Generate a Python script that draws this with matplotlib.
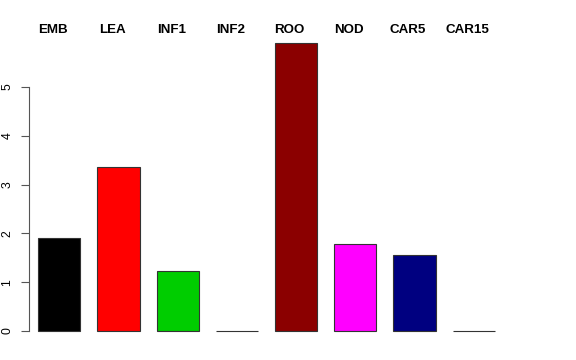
import numpy as np
import matplotlib
matplotlib.use('Agg')
import matplotlib.pyplot as plt

labels = ['EMB', 'LEA', 'INF1', 'INF2', 'ROO', 'NOD', 'CAR5', 'CAR15']
values = [1.91, 3.36, 1.23, 0.0, 5.90, 1.78, 1.56, 0.0]
colors = ['#000000', '#FF0000', '#00CD00', '#0000FF', '#8B0000', '#FF00FF', '#000080', '#FFA500']
yticks = [0, 1, 2, 3, 4, 5]

fig = plt.figure(figsize=(5.76, 3.6), dpi=100)
ax = fig.add_axes([29/576, 17.5/360, 475/576, 310.9/360])

x = np.arange(len(labels))
ax.bar(x, values, width=0.71, color=colors, edgecolor='#333333', linewidth=0.8)

ax.set_xlim(-0.512, 7.512)
ax.set_ylim(-0.236, 6.136)

for s in ['top', 'right', 'bottom']:
    ax.spines[s].set_visible(False)
ax.spines['left'].set_bounds(0, 5)
ax.spines['left'].set_color('#555555')
ax.spines['left'].set_linewidth(0.8)
ax.set_xticks([])
ax.set_yticks(yticks)
ax.set_yticklabels([str(t) for t in yticks], rotation=90, va='center',
                   fontsize=8.8, family='Liberation Sans')
ax.tick_params(axis='y', length=5.8, width=0.8, color='#555555', pad=5.5)

# group labels across the top
for lx, lab in zip(x - 0.11, labels):
    ax.text(lx, 1.005, lab, transform=ax.get_xaxis_transform(), ha='center', va='center',
            fontsize=9.6, fontweight='bold', family='Liberation Sans')

fig.savefig('out.png', dpi=100)
